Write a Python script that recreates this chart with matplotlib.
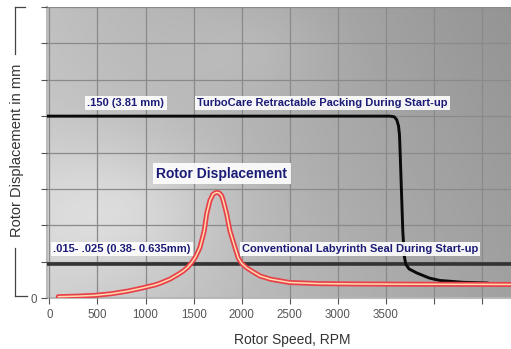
import numpy as np
import matplotlib
matplotlib.use("Agg")
import matplotlib.pyplot as plt
from matplotlib.lines import Line2D

plt.rcParams['font.family'] = ['Liberation Sans', 'DejaVu Sans']

# ---- data ----
rotor_rpm = [92, 300, 473, 650, 820, 960, 1097, 1150, 1253, 1340, 1392, 1440, 1479, 1520,
             1565, 1610, 1635, 1669, 1700, 1725, 1745, 1765, 1790, 1808, 1843, 1877, 1930,
             1964, 2000, 2050, 2103, 2190, 2300, 2500, 2800, 3200, 3800, 4800]
rotor_disp = [0.0011, 0.0016, 0.0022, 0.0036, 0.0058, 0.0082, 0.0108, 0.0122, 0.0156, 0.0196,
              0.0223, 0.0255, 0.0292, 0.0340, 0.0416, 0.0554, 0.0693, 0.0803, 0.0855, 0.0868,
              0.0871, 0.0866, 0.0845, 0.0803, 0.0693, 0.0554, 0.0416, 0.0330, 0.0285, 0.0250,
              0.0223, 0.0182, 0.0155, 0.0128, 0.0119, 0.0116, 0.0114, 0.0112]

retract_rpm = [-25, 1000, 2000, 3000, 3540, 3585, 3612, 3630, 3640, 3645, 3660, 3675, 3690,
               3705, 3740, 3820, 3950, 4060, 4300, 4560]
retract_disp = [0.150, 0.150, 0.150, 0.150, 0.150, 0.1495, 0.147, 0.142, 0.135, 0.125, 0.090,
                0.055, 0.035, 0.028, 0.024, 0.0207, 0.0165, 0.0145, 0.0130, 0.0124]

labyrinth_level = 0.028

x_ticks = [0, 500, 1000, 1500, 2000, 2500, 3000, 3500, 4000, 4500]
x_tick_labels = ['0', '500', '1000', '1500', '2000', '2500', '3000', '3500', '', '']
y_ticks = [0, 0.03, 0.06, 0.09, 0.12, 0.15, 0.18, 0.21, 0.24]
y_tick_labels = ['0', '', '', '', '', '', '', '', '']

# ---- figure ----
fig = plt.figure(figsize=(5.11, 3.49), dpi=100)
fig.patch.set_facecolor('white')
ax = fig.add_axes([0.092, 0.146, 0.908, 0.834])
xmin, xmax, ymin, ymax = -25, 4800, 0, 0.24
ax.set_xlim(xmin, xmax)
ax.set_ylim(ymin, ymax)

# background gradient
gx, gy = np.meshgrid(np.linspace(0, 1, 200), np.linspace(0, 1, 150))
bg = (0.80 - 0.17 * gx - 0.05 * gy
      + 0.10 * np.exp(-((gx - 0.15) ** 2 + (gy - 0.3) ** 2) / 0.06)
      + 0.04 * np.exp(-((gx - 0.45) ** 2 + (gy - 0.85) ** 2) / 0.03))
ax.imshow(bg, cmap='gray', vmin=0, vmax=1, extent=[xmin, xmax, ymin, ymax],
          origin='lower', aspect='auto', zorder=0)

ax.set_xticks(x_ticks)
ax.set_xticklabels(x_tick_labels)
ax.set_yticks(y_ticks)
ax.set_yticklabels(y_tick_labels)
ax.grid(True, color='#8a8a8a', lw=0.9, zorder=1)
ax.set_axisbelow(False)
ax.tick_params(axis='both', colors='#555555', labelcolor='#555555', labelsize=8.3,
               length=4, width=0.8)
ax.tick_params(axis='x', pad=4)
for s in ['top', 'right']:
    ax.spines[s].set_visible(False)
for s in ['left', 'bottom']:
    ax.spines[s].set_color('#bbbbbb')
    ax.spines[s].set_linewidth(1.5)

# lines
ax.axhline(labyrinth_level, color='#333333', lw=2.6, zorder=3)
ax.plot(retract_rpm, retract_disp, color='#0a0a0a', lw=2.1, zorder=4, solid_capstyle='round',
        solid_joinstyle='round')
ax.plot(rotor_rpm, rotor_disp, color='#e8404a', lw=3.6, zorder=5, solid_capstyle='round',
        solid_joinstyle='round')
ax.plot(rotor_rpm, rotor_disp, color='#ffdcb0', lw=1.1, zorder=6, solid_capstyle='round',
        solid_joinstyle='round')

# annotations
box = dict(boxstyle='square,pad=0.2', fc='white', ec='none', alpha=0.9)
tc = '#1c1c78'
ax.text(795, 0.1606, '.150 (3.81 mm)', ha='center', va='center', fontsize=8,
        fontweight='bold', color=tc, bbox=box, zorder=7)
ax.text(2835, 0.1606, 'TurboCare Retractable Packing During Start-up', ha='center', va='center',
        fontsize=8, fontweight='bold', color=tc, bbox=box, zorder=7)
ax.text(1790, 0.1026, 'Rotor Displacement', ha='center', va='center', fontsize=10,
        fontweight='bold', color=tc,
        bbox=dict(boxstyle='square,pad=0.25', fc='white', ec='none', alpha=0.9), zorder=7)
ax.text(755, 0.0406, '.015- .025 (0.38- 0.635mm)', ha='center', va='center', fontsize=8,
        fontweight='bold', color=tc, bbox=box, zorder=7)
ax.text(3230, 0.0406, 'Conventional Labyrinth Seal During Start-up', ha='center', va='center',
        fontsize=8, fontweight='bold', color=tc, bbox=box, zorder=7)

# axis labels
fig.text(0.572, 0.026, 'Rotor Speed, RPM', ha='center', va='center', fontsize=10, color='#333333')
fig.text(0.033, 0.569, 'Rotor Displacement in mm', ha='center', va='center', rotation=90,
         fontsize=10.5, color='#333333')
H = 349.0
W = 511.0
def fy(py):
    return 1 - py / H
def fx(px):
    return px / W
lc = '#444444'
for seg in [([15, 15], [7, 54]), ([15, 25], [7, 7]), ([15, 15], [248, 296]), ([15, 27], [296, 296])]:
    fig.add_artist(Line2D([fx(v) for v in seg[0]], [fy(v) for v in seg[1]], color=lc, lw=0.9))

fig.savefig('out.png', dpi=100)
